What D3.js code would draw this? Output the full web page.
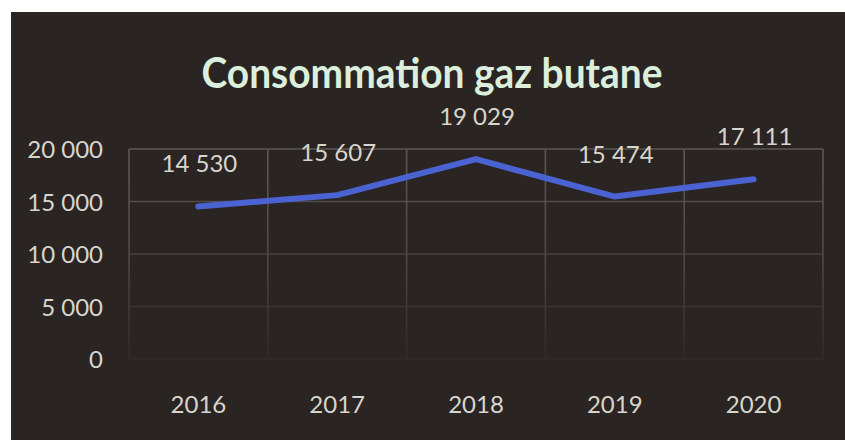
<!DOCTYPE html>
<html>
<head>
<meta charset="utf-8">
<script src="https://cdnjs.cloudflare.com/ajax/libs/d3/7.8.5/d3.min.js"></script>
<style>
  body { margin: 0; background: #ffffff; }
  text { font-family: Lato, "Open Sans", sans-serif; }
</style>
</head>
<body>
<script>
// chart data
var years = ["2016", "2017", "2018", "2019", "2020"];
var consommation = [14530, 15607, 19029, 15474, 17111];
var yTicks = [0, 5000, 10000, 15000, 20000];
var titre = "Consommation gaz butane";

drawChart();

function drawChart(){

    var width = 845,
        height = 440;

    var svg = d3.select("body")
        .append("svg")
        .attr("width", width)
        .attr("height", height);

    // dark card (photo of a slide, white paper around it)
    svg.append("rect")
        .attr("x", 11)
        .attr("y", 12)
        .attr("width", width - 11)
        .attr("height", height - 12)
        .attr("fill", "#2a2422");

    var plot = { left: 129, right: 823, top: 149, bottom: 359 };

    var x = d3.scaleBand()
        .domain(years)
        .range([plot.left, plot.right]);

    var y = d3.scaleLinear()
        .domain([0, 20000])
        .range([plot.bottom, plot.top]);

    // gradient so the grid fades toward the bottom, as in the photo
    var defs = svg.append("defs");
    var grad = defs.append("linearGradient")
        .attr("id", "gridFade")
        .attr("gradientUnits", "userSpaceOnUse")
        .attr("x1", 0).attr("y1", plot.top)
        .attr("x2", 0).attr("y2", plot.bottom);
    grad.append("stop").attr("offset", "0%").attr("stop-color", "#5e5753");
    grad.append("stop").attr("offset", "55%").attr("stop-color", "#4d4643");
    grad.append("stop").attr("offset", "100%").attr("stop-color", "#2f2927");

    // horizontal gridlines
    svg.selectAll(".hGrid")
        .data(yTicks)
        .enter()
        .append("line")
        .attr("class", "hGrid")
        .attr("x1", plot.left)
        .attr("x2", plot.right)
        .attr("y1", function(d){ return y(d); })
        .attr("y2", function(d){ return y(d); })
        .attr("stroke", "url(#gridFade)")
        .attr("stroke", function(d){
            var c = d3.interpolateRgb("#302a28", "#5e5753")(d / 20000);
            return c;
        })
        .attr("stroke-width", 1.6);

    // vertical gridlines at band edges
    var edges = years.map(function(d){ return x(d); }).concat([plot.right]);
    svg.selectAll(".vGrid")
        .data(edges)
        .enter()
        .append("rect")
        .attr("class", "vGrid")
        .attr("x", function(d){ return d - 0.8; })
        .attr("y", plot.top)
        .attr("width", 1.6)
        .attr("height", plot.bottom - plot.top)
        .attr("fill", "url(#gridFade)");

    // y axis labels
    svg.selectAll(".yLabel")
        .data(yTicks)
        .enter()
        .append("text")
        .attr("class", "yLabel")
        .attr("x", 103)
        .attr("y", function(d){ return y(d) + 9; })
        .attr("text-anchor", "end")
        .attr("font-size", 24)
        .attr("fill", "#d8d6cc")
        .text(function(d){ return d3.format(",")(d).replace(/,/g, " "); });

    // x axis labels
    svg.selectAll(".xLabel")
        .data(years)
        .enter()
        .append("text")
        .attr("class", "xLabel")
        .attr("x", function(d){ return x(d) + x.bandwidth() / 2; })
        .attr("y", 413)
        .attr("text-anchor", "middle")
        .attr("font-size", 24)
        .attr("fill", "#d8d6cc")
        .text(function(d){ return d; });

    // series line
    var line = d3.line()
        .x(function(d, i){ return x(years[i]) + x.bandwidth() / 2; })
        .y(function(d){ return y(d); });

    svg.append("path")
        .datum(consommation)
        .attr("d", line)
        .attr("fill", "none")
        .attr("stroke", "#4b63d2")
        .attr("stroke-width", 6)
        .attr("stroke-linejoin", "round")
        .attr("stroke-linecap", "round");

    // data labels
    svg.selectAll(".valLabel")
        .data(consommation)
        .enter()
        .append("text")
        .attr("class", "valLabel")
        .attr("x", function(d, i){ return x(years[i]) + x.bandwidth() / 2 + 1; })
        .attr("y", function(d){ return y(d) - 34; })
        .attr("text-anchor", "middle")
        .attr("font-size", 24)
        .attr("fill", "#d8d6cc")
        .text(function(d){ return d3.format(",")(d).replace(/,/g, " "); });

    // title
    svg.append("text")
        .attr("x", 432)
        .attr("y", 88)
        .attr("text-anchor", "middle")
        .attr("font-size", 42)
        .attr("font-weight", "bold")
        .attr("fill", "#dcefdc")
        .attr("textLength", 461)
        .attr("lengthAdjust", "spacingAndGlyphs")
        .text(titre);
};
</script>
</body>
</html>
